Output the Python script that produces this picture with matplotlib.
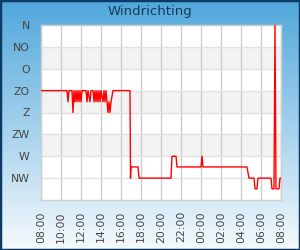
import matplotlib
matplotlib.use("Agg")
import matplotlib.pyplot as plt
import numpy as np
from matplotlib.patches import Rectangle

# hours since 08:00, wind direction in degrees
hours = [0.0, 2.6, 2.7, 2.8, 3.1, 3.2, 3.3, 3.4, 3.5, 3.6, 3.7, 3.8, 3.9, 4.0, 4.1,
         4.5, 4.6, 4.7, 4.9, 5.0, 5.2, 5.3, 5.4, 5.5, 5.6, 5.7, 5.8, 5.9, 6.0,
         6.2, 6.3, 6.4, 6.5, 6.6, 6.7, 6.8, 6.9, 7.0, 7.2,
         8.9, 8.95, 9.0, 9.7, 9.8, 13.0, 13.1, 13.5, 13.6, 16.0, 16.1, 16.2,
         20.6, 20.8, 21.3, 21.4, 21.6, 21.7, 23.0, 23.1, 23.3, 23.4, 23.5, 23.8, 23.9, 23.95]
degrees = [135, 135, 158, 135, 135, 180, 135, 158, 135, 158, 135, 158, 135, 158, 135,
           135, 158, 135, 158, 135, 135, 158, 135, 158, 135, 158, 135, 158, 135,
           158, 135, 158, 135, 158, 180, 158, 180, 158, 135,
           135, 315, 292, 292, 315, 315, 270, 270, 292, 292, 270, 292,
           292, 315, 315, 337, 337, 315, 315, 337, 337, 0, 337, 337, 315, 315]

tick_hours = list(range(0, 25, 2))
tick_labels = ["08:00", "10:00", "12:00", "14:00", "16:00", "18:00", "20:00",
               "22:00", "00:00", "02:00", "04:00", "06:00", "08:00"]
dir_ticks = [0, 45, 90, 135, 180, 225, 270, 315]
dir_labels = ["N", "NO", "O", "ZO", "Z", "ZW", "W", "NW"]
band_ranges = [(45, 90), (135, 180), (225, 270)]

fig = plt.figure(figsize=(3, 2.5), dpi=100)

# gradient background
bg = fig.add_axes([0, 0, 1, 1], zorder=-10)
top = np.array([0x50, 0xa7, 0xdb]) / 255
bot = np.array([0xf6, 0xfa, 0xfd]) / 255
t = np.linspace(0, 1, 256)[:, None]
grad = top[None, :] * (1 - t) + bot[None, :] * t
bg.imshow(grad[:, None, :], aspect="auto", extent=[0, 1, 0, 1])
bg.set_axis_off()
fig.patches.append(Rectangle((0, 0), 1, 1, transform=fig.transFigure, fill=False,
                             edgecolor="#0b3a66", linewidth=2.5, zorder=5))

fig.text(0.5, 0.952, "Windrichting", ha="center", va="center", fontsize=9.5,
         color="#163a5c")

ax = fig.add_axes([41 / 300, 50 / 250, 240 / 300, 175 / 250])
ax.set_facecolor("white")
for lo, hi in band_ranges:
    ax.axhspan(lo, hi, color="#f3f3f3", zorder=0, linewidth=0)
ax.plot(hours, degrees, color="#ff0000", linewidth=1.0, zorder=3)

ax.set_xlim(0, 24)
ax.set_ylim(360, 0)
ax.set_xticks(tick_hours)
ax.set_xticklabels(tick_labels, rotation=90, fontsize=7.8, color="#444444")
ax.set_yticks(dir_ticks)
ax.set_yticklabels(dir_labels, fontsize=7.8, color="#444444")
ax.tick_params(axis="x", length=0, pad=8)
ax.tick_params(axis="y", length=0, pad=8)
ax.grid(axis="x", color="#cccccc", linewidth=1.0, zorder=1)
ax.grid(axis="y", color="#e2e2e2", linewidth=1.0, zorder=1)
ax.set_axisbelow(True)
for s in ax.spines.values():
    s.set_color("#d0d0d0")
    s.set_linewidth(1.0)

fig.savefig("out.png", dpi=100)
